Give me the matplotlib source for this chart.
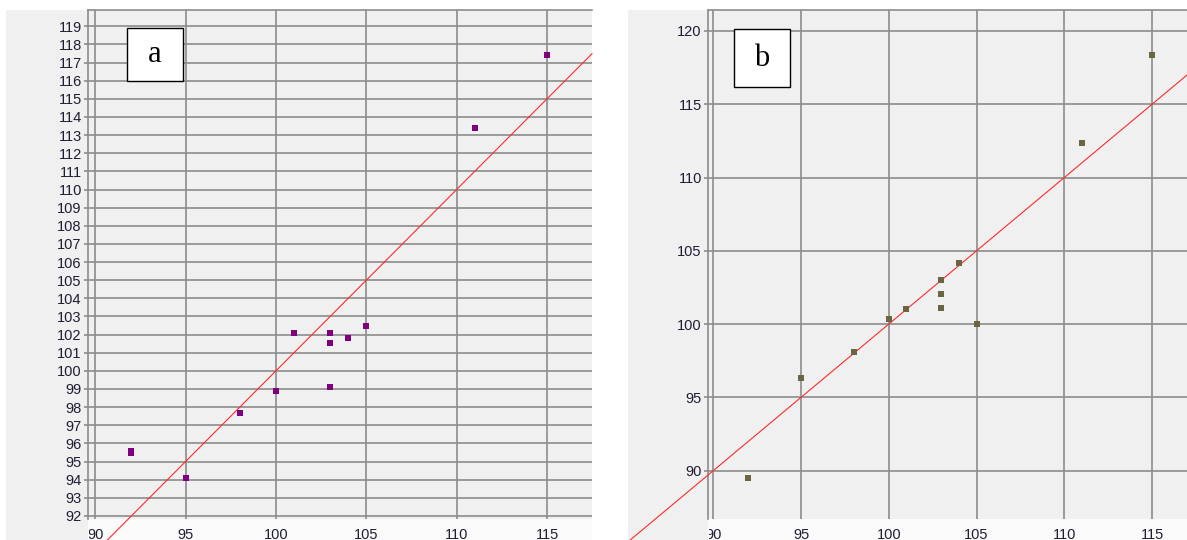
import numpy as np
import matplotlib
matplotlib.use("Agg")
import matplotlib.pyplot as plt
from matplotlib.patches import Rectangle
from matplotlib.transforms import Bbox

# ---- data ----
x_a = [92, 92, 95, 98, 100, 101, 103, 103, 103, 104, 105, 111, 115]
y_a = [95.6, 95.45, 94.1, 97.65, 98.9, 102.07, 102.07, 101.55, 99.13, 101.83, 102.45, 113.4, 117.4]

x_b = [92, 95, 98, 100, 101, 103, 103, 103, 104, 105, 111, 115]
y_b = [89.5, 96.33, 98.07, 100.33, 101.02, 103.03, 102.03, 101.1, 104.18, 99.98, 112.35, 118.36]

xticks = [90, 95, 100, 105, 110, 115]
yticks_a = list(range(92, 120))
yticks_b = [90, 95, 100, 105, 110, 115, 120]
panel_labels = ["a", "b"]

W, H = 1187, 540
fig = plt.figure(figsize=(W / 100, H / 100), dpi=100)
fig.patch.set_facecolor("white")

def fx(px):
    return px / W

def fy(py):
    return 1 - py / H

BG = "#f0f0f0"
GRID = "#8c8c8c"
TXT = "#1e1e34"

def add_rect(x0, y0, x1, y1, color, z=-10, edge="none", lw=0):
    r = Rectangle((fx(x0), fy(y1)), fx(x1) - fx(x0), fy(y0) - fy(y1),
                  transform=fig.transFigure, facecolor=color, edgecolor=edge,
                  linewidth=lw, zorder=z)
    fig.add_artist(r)
    return r

# background panels (label columns & strips)
add_rect(6, 10, 592, 540, BG)
add_rect(88, 519, 592, 540, "#fafafa", z=-9)
add_rect(628, 10, 1187, 540, BG)
add_rect(708, 519, 1187, 540, "#fafafa", z=-9)

ax_a = fig.add_axes([fx(88), fy(519), fx(592) - fx(88), fy(10) - fy(519)])
ax_b = fig.add_axes([fx(708), fy(519), fx(1187) - fx(708), fy(10) - fy(519)])
for ax in (ax_a, ax_b):
    ax.patch.set_alpha(0)

def style(ax, xlim, ylim, yticks, color, xs, ys, ms):
    ax.set_xlim(*xlim)
    ax.set_ylim(*ylim)
    ax.set_xticks(xticks)
    ax.set_yticks(yticks)
    ax.grid(True, color=GRID, linewidth=1.2, zorder=1)
    ax.set_axisbelow(True)
    for s in ("right", "bottom"):
        ax.spines[s].set_visible(False)
    for s in ("left", "top"):
        ax.spines[s].set_color(GRID)
        ax.spines[s].set_linewidth(1.2)
    ax.tick_params(axis="y", length=3, width=1.2, color=GRID, pad=1.5,
                   labelsize=10.5, labelcolor=TXT)
    ax.tick_params(axis="x", length=0, pad=6.5, labelsize=10.5, labelcolor=TXT)
    for lab in ax.get_yticklabels() + ax.get_xticklabels():
        lab.set_fontfamily("Liberation Sans")
    # identity reference line y = x
    ref = np.array([80.0, xlim[1]])
    ax.plot(ref, ref, color="#ff2a2a", linewidth=0.8, zorder=3, clip_on=False)
    ax.scatter(xs, ys, marker="s", s=ms ** 2, color=color, linewidths=0, zorder=4)

style(ax_a, (89.60, 117.49), (91.83, 119.9), yticks_a, "#800080", x_a, y_a, 4.6)
style(ax_b, (89.70, 116.99), (86.70, 121.43), yticks_b, "#6b6541", x_b, y_b, 4.2)

# clip x tick labels to the strip below each axes
fig.canvas.draw()
for ax in (ax_a, ax_b):
    bb = ax.get_window_extent()
    clip = Bbox([[bb.x0 + 1, 0], [bb.x1, bb.y0]])
    for lab in ax.get_xticklabels():
        lab.set_clip_box(clip)
        lab.set_clip_on(True)

# panel label boxes
for (x0, y0, x1, y1), lbl in zip([(127, 28, 183, 81), (734, 29, 790, 87)], panel_labels):
    add_rect(x0, y0, x1, y1, "white", z=10, edge="black", lw=1.0)
    fig.text(fx((x0 + x1) / 2), fy((y0 + y1) / 2), lbl, ha="center", va="center",
             fontsize=22, family="Liberation Serif", color="black", zorder=11)

fig.savefig("out.png", dpi=100, facecolor="white")
